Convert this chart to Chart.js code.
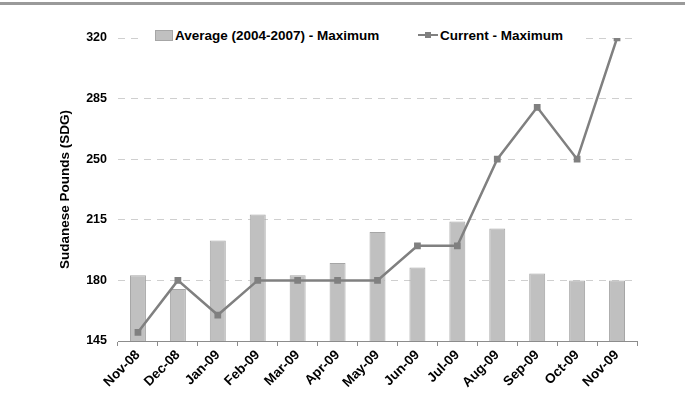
<!DOCTYPE html>
<html>
<head>
<meta charset="utf-8">
<script src="https://cdn.jsdelivr.net/npm/chart.js@4"></script>
<style>
	body { margin: 0; background: #fff; }
	#wrap { position: relative; width: 685px; height: 405px; }
	#topline { position: absolute; left: 0; top: 2px; width: 685px; height: 3px; background: #9a9a9a; }
	#legend {
		position: absolute; left: 142px; top: 26px; width: 438px; height: 19px;
		background: #fff; font: bold 13.5px "Liberation Sans", Arial, sans-serif; color: #000;
	}
	.item { position: absolute; top: 2px; white-space: nowrap; }
	.box { display: inline-block; width: 16px; height: 9px; background: #c0c0c0; border: 1px solid #a6a6a6; vertical-align: -1px; margin-right: 2px; }
	.ln { display: inline-block; position: relative; width: 20px; height: 10px; vertical-align: 0px; margin-right: 2px; }
	.ln:before { content: ""; position: absolute; left: 0; right: 0; top: 4px; height: 2px; background: #808080; }
	.ln:after { content: ""; position: absolute; left: 7px; top: 2px; width: 6px; height: 6px; background: #808080; }
</style>
</head>
<body>
<div id="wrap">
	<canvas id="chart" width="685" height="405"></canvas>
	<div id="topline"></div>
	<div id="legend">
		<div class="item" style="left:13px"><span class="box"></span>Average (2004-2007) - Maximum</div>
		<div class="item" style="left:276px"><span class="ln"></span>Current - Maximum</div>
	</div>
</div>
<script>
// Sudanese pounds, monthly maximum prices

const months = ["Nov-08", "Dec-08", "Jan-09", "Feb-09", "Mar-09", "Apr-09", "May-09",
	"Jun-09", "Jul-09", "Aug-09", "Sep-09", "Oct-09", "Nov-09"];
const averageMax = [183, 175, 203, 218, 183, 190, 208, 187.5, 214, 210, 184, 180, 180];
const currentMax = [150, 180, 160, 180, 180, 180, 180, 200, 200, 250, 280, 250, 320];
const yTicks = [145, 180, 215, 250, 285, 320];

const FAMILY = "'Liberation Sans', Arial, sans-serif";
const TICK_FONT = { family: FAMILY, size: 12.5, weight: "bold" };
const LABEL_FONT = { family: FAMILY, size: 13.5, weight: "bold" };

new Chart(document.getElementById("chart").getContext("2d"), {
	type: "bar",
	data: {
		labels: months,
		datasets: [
			{
				type: "line",
				label: "Current - Maximum",
				data: currentMax,
				borderColor: "#808080",
				backgroundColor: "#808080",
				borderWidth: 2.5,
				pointStyle: "rect",
				pointRadius: 3,
				tension: 0,
				order: 0,
			},
			{
				label: "Average (2004-2007) - Maximum",
				data: averageMax,
				backgroundColor: "#c0c0c0",
				borderColor: "#a6a6a6",
				borderWidth: 1,
				barPercentage: 0.8,
				categoryPercentage: 0.5,
				order: 1,
			},
		],
	},
	options: {
		responsive: false,
		animation: false,
		layout: { padding: { left: 54, right: 48, top: 38, bottom: 0 } },
		plugins: {
			legend: { display: false },
			tooltip: { enabled: false },
		},
		scales: {
			x: {
				offset: true,
				grid: { offset: true, drawOnChartArea: false, color: "#8c8c8c", tickLength: 5 },
				border: { color: "#8c8c8c", width: 1 },
				ticks: { font: LABEL_FONT, color: "#000", minRotation: 45, maxRotation: 45, padding: 1 },
				afterFit: (scale) => { scale.height = 64; },
			},
			y: {
				min: yTicks[0],
				max: yTicks[yTicks.length - 1],
				afterBuildTicks: (scale) => { scale.ticks = yTicks.map((v) => ({ value: v })); },
				grid: {
					drawTicks: false,
					color: (ctx) => (ctx.tick && ctx.tick.value === yTicks[0] ? "rgba(0,0,0,0)" : "#cfcfcf"),
				},
				border: { display: false, dash: [7, 6] },
				ticks: { font: TICK_FONT, color: "#000", padding: 11 },
				title: { display: true, text: "Sudanese Pounds (SDG)", font: LABEL_FONT, color: "#000", padding: 3 },
				afterFit: (scale) => { scale.width = 64; },
			},
		},
	},
});
</script>
</body>
</html>
